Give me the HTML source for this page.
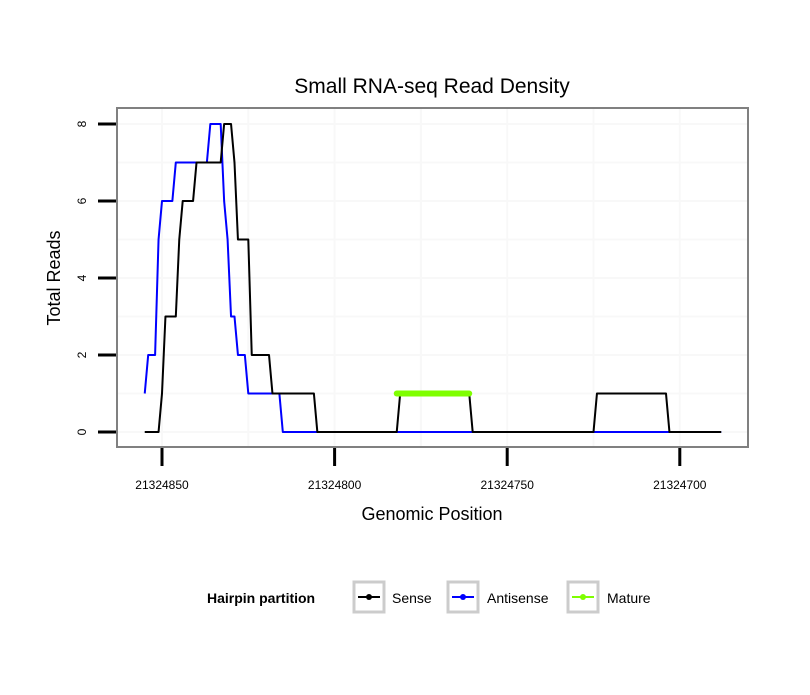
<!DOCTYPE html>
<html><head><meta charset="utf-8"><style>
body{margin:0;background:#fff;}
svg text{font-family:"Liberation Sans",sans-serif;}
</style></head><body>
<svg id="chart" width="810" height="690" xmlns="http://www.w3.org/2000/svg">
<text x="432" y="93" font-size="21" text-anchor="middle">Small RNA-seq Read Density</text>
<g id="grid"></g>
<g id="series"></g>
<rect x="117" y="108" width="631" height="339" fill="none" stroke="#808080" stroke-width="2"/>
<g id="axes"></g>
<text x="432" y="520" font-size="18" text-anchor="middle">Genomic Position</text>
<text transform="translate(60,278) rotate(-90)" font-size="18" text-anchor="middle">Total Reads</text>
<g>
<text x="207" y="603" font-size="14" font-weight="bold">Hairpin partition</text>
<g>
<rect x="354" y="582" width="30" height="30" fill="none" stroke="#ccc" stroke-width="3"/>
<line x1="358" y1="597" x2="380" y2="597" stroke="#000" stroke-width="2"/><circle cx="369" cy="597" r="3" fill="#000"/>
<text x="392" y="603" font-size="14">Sense</text></g>
<g>
<rect x="448" y="582" width="30" height="30" fill="none" stroke="#ccc" stroke-width="3"/>
<line x1="452" y1="597" x2="474" y2="597" stroke="#00f" stroke-width="2"/><circle cx="463" cy="597" r="3" fill="#00f"/>
<text x="487" y="603" font-size="14">Antisense</text></g>
<g>
<rect x="568" y="582" width="30" height="30" fill="none" stroke="#ccc" stroke-width="3"/>
<line x1="572" y1="597" x2="594" y2="597" stroke="#7fff00" stroke-width="2"/><circle cx="583" cy="597" r="3" fill="#7fff00"/>
<text x="607" y="603" font-size="14">Mature</text></g>
</g>
</svg>
<script>
const xTicks=[21324850,21324800,21324750,21324700];
const xMinor=[21324825,21324775,21324725];
const yTicks=[0,2,4,6,8];
const yMinor=[1,3,5,7];
const sensePos=[21324855,21324851,21324850,21324849,21324846,21324845,21324844,21324841,21324840,21324833,21324832,21324830,21324829,21324828,21324825,21324824,21324819,21324818,21324806,21324805,21324782,21324781,21324761,21324760,21324725,21324724,21324704,21324703,21324688];
const senseVal=[0,0,1,3,3,5,6,6,7,7,8,8,7,5,5,2,2,1,1,0,0,1,1,0,0,1,1,0,0];
const antiPos=[21324855,21324854,21324852,21324851,21324850,21324847,21324846,21324837,21324836,21324833,21324832,21324831,21324830,21324829,21324828,21324826,21324825,21324816,21324815,21324688];
const antiVal=[1,2,2,5,6,6,7,7,8,8,6,5,3,3,2,2,1,1,0,0];
const maturePos=[21324782,21324761];
const matureVal=[1,1];
const NS="http://www.w3.org/2000/svg";
const xs=p=>162+(21324850-p)*3.452;
const ys=v=>432-v*38.5;
function mk(t,a,parent){const e=document.createElementNS(NS,t);for(const k in a)e.setAttribute(k,a[k]);parent.appendChild(e);return e;}
const grid=document.getElementById('grid'),axes=document.getElementById('axes'),series=document.getElementById('series');
yMinor.forEach(v=>{const l=mk('line',{x1:117,x2:748,y1:ys(v),y2:ys(v),stroke:'#f8f8f8','stroke-width':2},grid);

});
yTicks.forEach(v=>{const l=mk('line',{x1:117,x2:748,y1:ys(v),y2:ys(v),stroke:'#f8f8f8','stroke-width':2},grid);


const t=mk('line',{x1:98,x2:116,y1:ys(v),y2:ys(v),stroke:'#000','stroke-width':3},axes);


const tx=mk('text',{transform:`translate(86,${ys(v)}) rotate(-90)`,'font-size':12,'text-anchor':'middle'},axes);tx.textContent=v;

});
xMinor.forEach(p=>{const l=mk('line',{x1:xs(p),x2:xs(p),y1:108,y2:447,stroke:'#f8f8f8','stroke-width':2},grid);

});
xTicks.forEach(p=>{const l=mk('line',{x1:xs(p),x2:xs(p),y1:108,y2:447,stroke:'#f8f8f8','stroke-width':2},grid);


const t=mk('line',{x1:xs(p),x2:xs(p),y1:448,y2:466,stroke:'#000','stroke-width':3},axes);


const tx=mk('text',{x:xs(p),y:489,'font-size':12,'text-anchor':'middle'},axes);tx.textContent=p;

});
function line(P,V,color,w,name,cap){const d=P.map((p,i)=>(i?'L':'M')+xs(p)+','+ys(V[i])).join(' ');
const e=mk('path',{d:d,fill:'none',stroke:color,'stroke-width':w,'stroke-linecap':cap,'stroke-linejoin':'round'},series);

}
line(antiPos,antiVal,'#00f',2,'antisense-line','butt');
line(sensePos,senseVal,'#000',2,'sense-line','butt');
line(maturePos,matureVal,'#7fff00',6,'mature-line','round');
</script>
</body></html>
